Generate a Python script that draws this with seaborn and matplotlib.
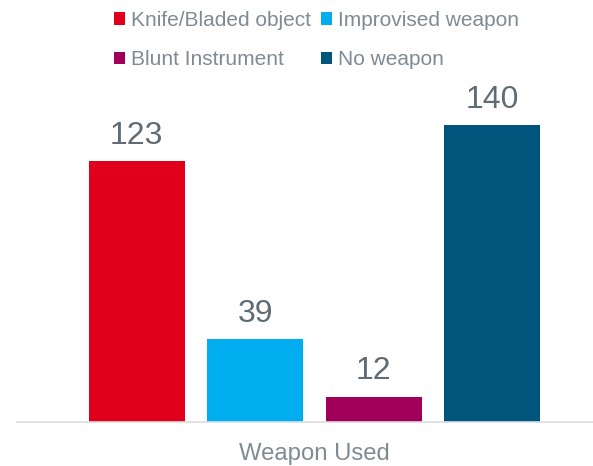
import matplotlib
matplotlib.use("Agg")
import matplotlib.pyplot as plt
import seaborn as sns
import pandas as pd
from matplotlib.patches import Patch

group = ["Weapon Used"]
weapons = ["Knife/Bladed object", "Improvised weapon", "Blunt Instrument", "No weapon"]
counts = [123, 39, 12, 140]
colors = ["#E0001B", "#00AEEF", "#A0005A", "#00557D"]

df = pd.DataFrame({"group": group * len(weapons), "weapon": weapons, "count": counts})

sns.set_theme(style="white")
plt.rcParams["font.family"] = ["Liberation Sans", "DejaVu Sans"]

fig = plt.figure(figsize=(5.93, 4.66), dpi=100)
ax = fig.add_axes([17 / 593, 1 - 422 / 466, 576 / 593, 342 / 466])

sns.barplot(data=df, x="group", y="count", hue="weapon", hue_order=weapons,
            palette=colors, width=0.8, gap=0.19, saturation=1, ax=ax,
            legend=False, linewidth=0)

for cont in ax.containers:
    ax.bar_label(cont, fmt="%d", padding=7.5, fontsize=23, color="#5F6B75")

ax.set_xlim(-0.502, 0.470)
ax.set_ylim(0, 161.3)
ax.set_ylabel("")
ax.set_xlabel("")
ax.set_yticks([])
ax.tick_params(axis="x", length=0, labelsize=17.2, labelcolor="#7F8A93", pad=15)
for side in ["top", "right", "left"]:
    ax.spines[side].set_visible(False)
ax.spines["bottom"].set_color("#D9DEE1")
ax.spines["bottom"].set_linewidth(1.2)

# legend entries laid out row by row: matplotlib fills columns first
order = [0, 2, 1, 3]
handles = [Patch(facecolor=colors[i], edgecolor="none") for i in order]
labels = [weapons[i] for i in order]
fig.legend(handles, labels, loc="upper left", bbox_to_anchor=(95 / 593, 1.017),
           ncol=2, frameon=False, fontsize=15, labelcolor="#7F8A93",
           handlelength=0.53, handleheight=0.53, handletextpad=0.29,
           columnspacing=0.5, labelspacing=0.97)

fig.savefig("out.png", dpi=100)
